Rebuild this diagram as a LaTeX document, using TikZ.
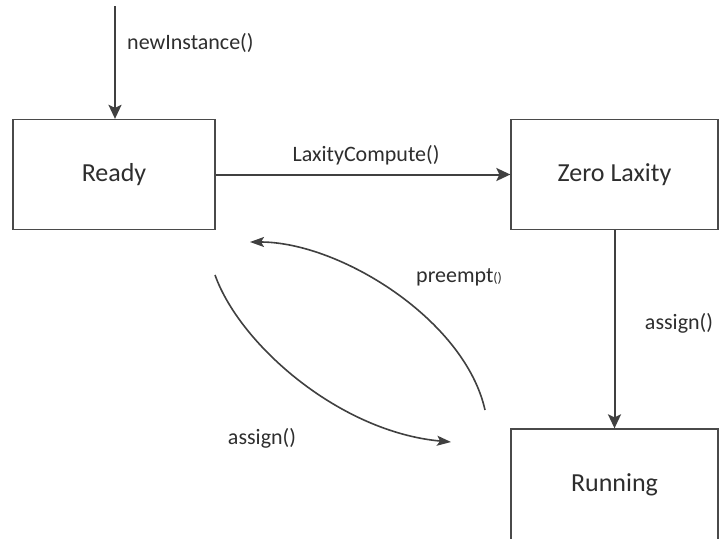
\documentclass[tikz,border=0pt]{standalone}
\usepackage{fontspec}
\setmainfont{Carlito}
\usetikzlibrary{arrows.meta}
\definecolor{edgegray}{HTML}{404040}
\definecolor{boxgray}{HTML}{4A4A4A}
\definecolor{textgray}{HTML}{2E2E2E}
\tikzset{
  state/.style={draw=boxgray, line width=1.3pt, rectangle, inner sep=0pt,
    text=textgray, font=\fontsize{26}{30}\selectfont},
  flow/.style={draw=edgegray, line width=2pt,
    -{Stealth[length=14pt, width=13pt, inset=3pt]}},
  arc/.style={draw=edgegray, line width=1.6pt,
    -{Stealth[length=14pt, width=10pt, inset=3pt]}},
  lbl/.style={text=textgray, inner sep=0pt, font=\fontsize{22}{26}\selectfont},
}
\begin{document}
\begin{tikzpicture}[x=1pt, y=-1pt]
\useasboundingbox (0,0) rectangle (719,538);
\fill[white] (0,0) rectangle (719,538);

% states
\node[state, minimum width=202pt, minimum height=110pt] (ready) at (114,174.5) {Ready};
\node[state, minimum width=207pt, minimum height=110pt] (zero) at (614.5,174.5) {Zero Laxity};
\node[state, minimum width=207pt, minimum height=111pt] (run) at (614.5,484.5) {Running};

% entry point
\coordinate (start) at (115,6);
\draw[flow] (start) -- (start |- ready.north);
\node[lbl, anchor=west] (newlbl) at (127,43) {newInstance()};

% transitions between states
\draw[flow] (ready.east) -- (zero.west);
\node[lbl] (laxlbl) at (366,155) {LaxityCompute()};

\draw[flow] (zero.south) -- (run.north);
\node[lbl] (zassign) at (679,323) {assign()};

% preemption and reassignment arcs
\coordinate (pfrom) at (485,410);
\coordinate (pto) at (250,242);
\draw[arc] (pfrom) .. controls (465,320) and (340,242) .. (pto);
\node[lbl, anchor=west] (prelbl) at (416,277) {preempt{\fontsize{14}{16}\selectfont()}};

\coordinate (afrom) at (215,275);
\coordinate (ato) at (451,442);
\draw[arc] (afrom) .. controls (240,345) and (340,432) .. (ato);
\node[lbl] (asslbl) at (262,438) {assign()};
\end{tikzpicture}
\end{document}
